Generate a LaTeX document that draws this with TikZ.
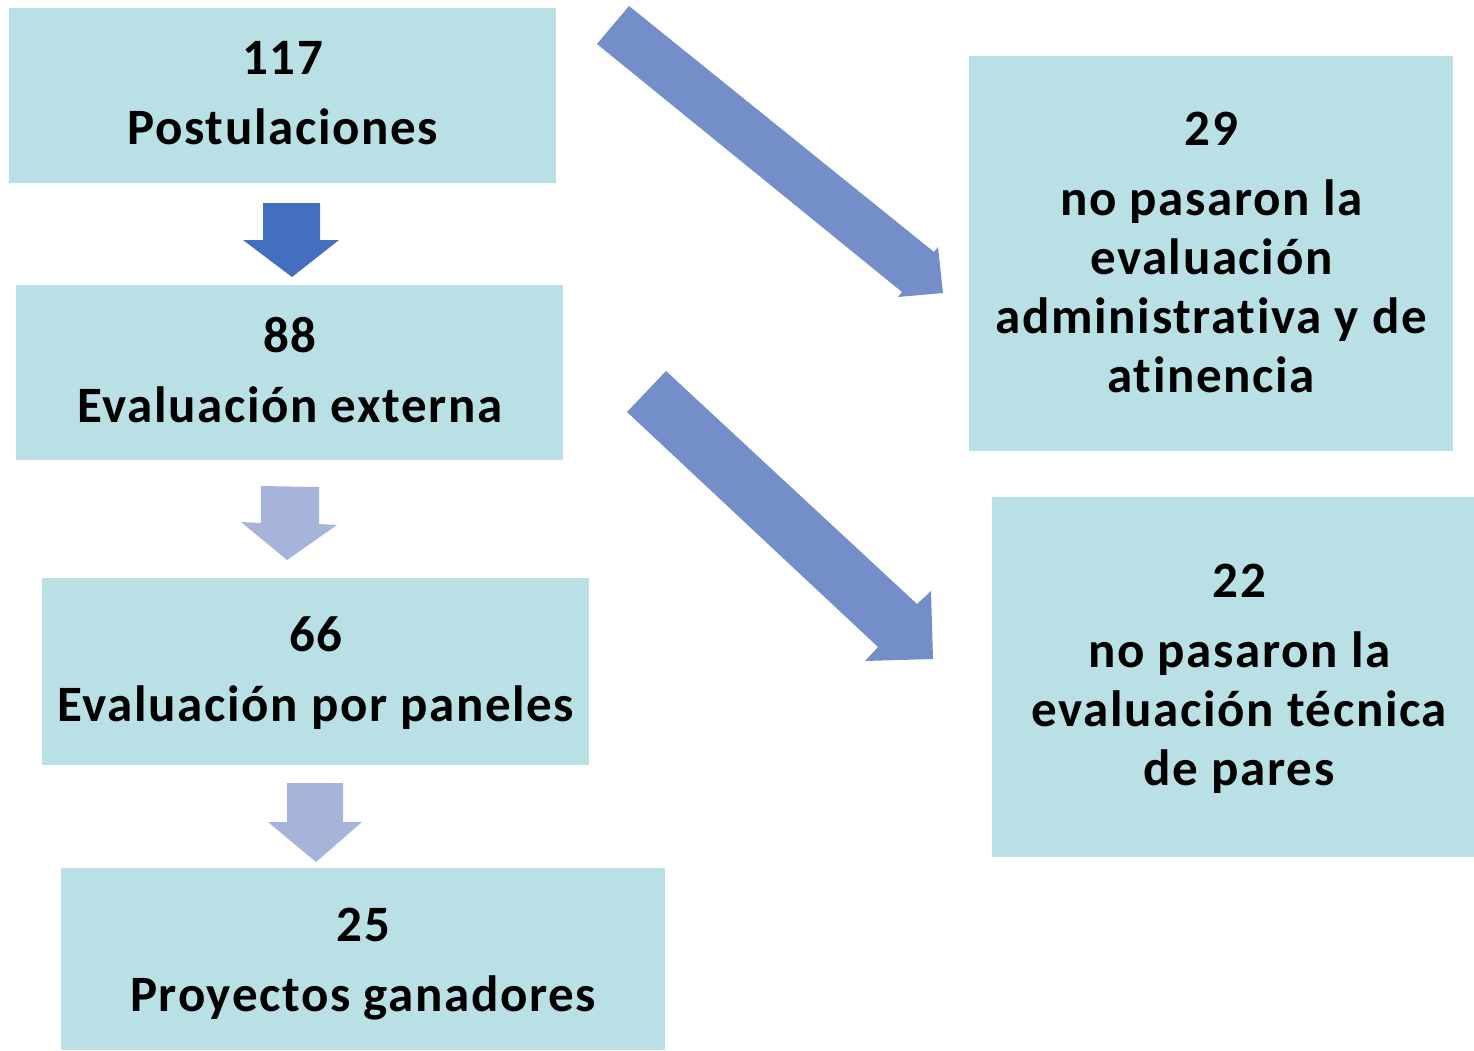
\documentclass[tikz,border=0pt]{standalone}
\usepackage{fontspec}
\setmainfont{Carlito}[Ligatures=NoCommon, LetterSpace=3.2]
\definecolor{boxfill}{RGB}{185,224,228}
\definecolor{darkarrow}{RGB}{68,110,190}
\definecolor{lightarrow}{RGB}{166,180,219}
\definecolor{diagarrow}{RGB}{115,142,201}
\tikzset{
  box/.style={fill=boxfill, draw=none, anchor=north west, inner sep=0pt},
  label text/.style={align=center, inner sep=0pt,
    font=\fontsize{51}{59}\selectfont\bfseries, text=black}
}
\begin{document}
\begin{tikzpicture}[x=1pt,y=-1pt]
\useasboundingbox (0,0) rectangle (1474,1051);
\node[box, minimum width=547pt, minimum height=175pt] (post) at (9,8) {};
\node[box, minimum width=547pt, minimum height=175pt] (ext) at (16,285) {};
\node[box, minimum width=547pt, minimum height=187pt] (pan) at (42,578) {};
\node[box, minimum width=604pt, minimum height=182pt] (gan) at (61,868) {};
\node[box, minimum width=484pt, minimum height=395pt] (adm) at (969,56) {};
\node[box, minimum width=482pt, minimum height=360pt] (tec) at (992,497) {};
\node[label text] (posttext) at ([yshift=3pt]post.center) {117\\[11pt]Postulaciones};
\node[label text] (exttext) at ([yshift=3pt]ext.center) {88\\[11pt]Evaluación externa};
\node[label text] (pantext) at ([yshift=-1pt]pan.center) {66\\[11pt]Evaluación por paneles};
\node[label text] (gantext) at ([yshift=-5pt]gan.center) {25\\[11pt]Proyectos ganadores};
\node[label text] (admtext) at ([yshift=1pt]adm.center) {29\\[11pt]no pasaron la\\evaluación\\administrativa y de\\atinencia};
\node[label text] (tectext) at ([xshift=6pt,yshift=-2pt]tec.center) {22\\[11pt]no pasaron la\\evaluación técnica\\de pares};
% down block arrows
\fill[darkarrow] (263,203) -- (320,203) -- (320,240) -- (339,240) -- (292,277) -- (243,240) -- (263,240) -- cycle;
\fill[lightarrow] (261,486) -- (319,487) -- (319,524) -- (337,525) -- (287,560) -- (241,522) -- (261,523) -- cycle;
\fill[lightarrow] (287,783) -- (343,783) -- (343,822) -- (362,822) -- (316,862) -- (268,822) -- (287,822) -- cycle;
% diagonal block arrows
\fill[diagarrow] (629,6) -- (934,252) -- (938,247) -- (943,293) -- (898,297) -- (902,292) -- (597,44) -- cycle;
\fill[diagarrow] (666,371) -- (917,604) -- (931,591) -- (933,659) -- (865,661) -- (878,647) -- (627,412) -- cycle;
\end{tikzpicture}
\end{document}
